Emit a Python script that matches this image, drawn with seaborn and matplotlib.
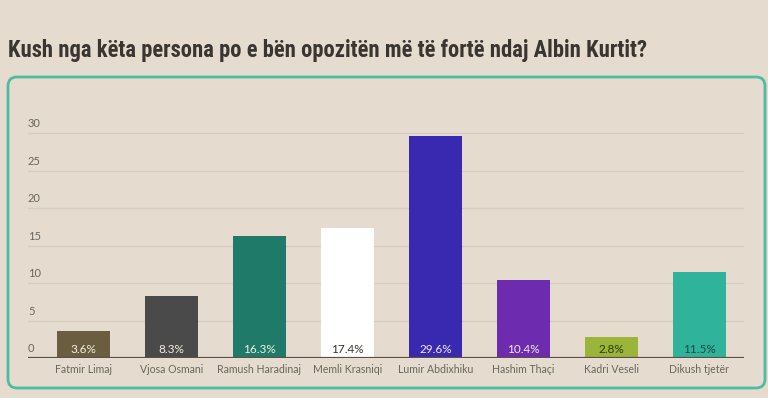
import numpy as np
import pandas as pd
import seaborn as sns
import matplotlib.pyplot as plt
from matplotlib.patches import FancyBboxPatch

names = ["Fatmir Limaj", "Vjosa Osmani", "Ramush Haradinaj", "Memli Krasniqi",
         "Lumir Abdixhiku", "Hashim Thaçi", "Kadri Veseli", "Dikush tjetër"]
values = [3.6, 8.3, 16.3, 17.4, 29.6, 10.4, 2.8, 11.5]
bar_colors = ["#6b5d3f", "#4a4a4a", "#1f7a69", "#ffffff",
              "#3829b0", "#6d2bb0", "#9bb53a", "#2fb39a"]
label_colors = ["#f2ede4", "#f2ede4", "#f2ede4", "#3a3530",
                "#f2ede4", "#f2ede4", "#2f3a10", "#1e4a40"]
yticks = [0, 5, 10, 15, 20, 25, 30]
title = "Kush nga këta persona po e bën opozitën më të fortë ndaj Albin Kurtit?"

bg = "#e5dccf"
sns.set_theme(style="white")
plt.rcParams['font.family'] = ['Lato', 'DejaVu Sans']

df = pd.DataFrame({"name": names, "value": values})

fig = plt.figure(figsize=(7.68, 3.98), dpi=100)
fig.patch.set_facecolor(bg)

frame = FancyBboxPatch((8, 10), 757, 311, boxstyle="round,pad=0,rounding_size=9",
                       transform=None, facecolor="none", edgecolor="#4dbd9f",
                       linewidth=2, zorder=-1)
fig.patches.append(frame)

ax = fig.add_axes([28 / 768, 40 / 398, (743.5 - 28) / 768, (358 - 110.5) / 398])
ax.set_facecolor("none")

sns.barplot(data=df, x="name", y="value", hue="name", palette=bar_colors,
            width=0.61, legend=False, ax=ax, saturation=1, edgecolor="none")

ax.set_ylim(0, 33)
ax.set_xlim(-0.63, 7.5)
for v in yticks[1:]:
    ax.axhline(v, color="#d6ccbf", linewidth=1, zorder=0)
ax.axhline(0, color="#5a5045", linewidth=1.6, zorder=5)

for v in yticks:
    ax.text(0, v + 0.5, str(v), transform=ax.get_yaxis_transform(),
            ha="left", va="bottom", fontsize=8, color="#6a6560")

for i, (v, c) in enumerate(zip(values, label_colors)):
    ax.text(i, 0.45, f"{v}%", ha="center", va="bottom", fontsize=8.5, color=c, zorder=6)

ax.set_yticks([])
ax.set_xticks(range(len(names)))
ax.set_xticklabels(names, fontsize=7.6, color="#6a6560")
ax.tick_params(axis="x", length=0, pad=4)
ax.set_xlabel("")
ax.set_ylabel("")
sns.despine(ax=ax, left=True, bottom=True)

fig.text(8 / 768, 1 - 57 / 398, title, ha="left", va="baseline", fontsize=16.3,
         fontweight="bold", color="#3a3530",
         family=['Roboto Condensed', 'Liberation Sans Narrow', 'Roboto', 'DejaVu Sans'])

fig.savefig("out.png", dpi=100, facecolor=bg)
